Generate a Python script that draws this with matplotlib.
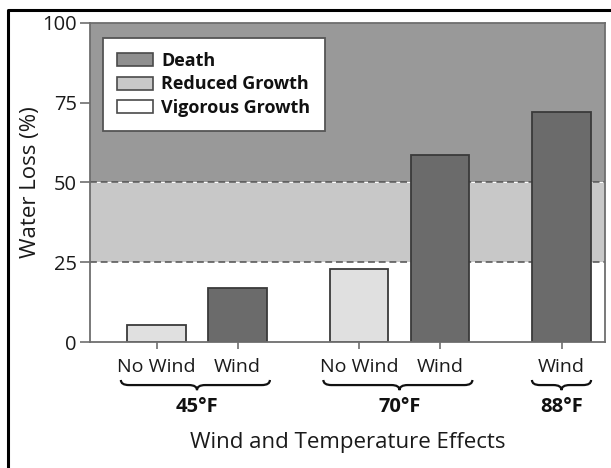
import matplotlib
matplotlib.use("Agg")
import matplotlib.pyplot as plt
from matplotlib.patches import Patch, PathPatch
from matplotlib.path import Path
from matplotlib.lines import Line2D

# ---- data ----
conditions = ["No Wind", "Wind", "No Wind", "Wind", "Wind"]
temperatures = ["45°F", "70°F", "88°F"]
bar_group = [0, 0, 1, 1, 2]
water_loss = [5.4, 17.0, 22.9, 58.6, 72.0]
zone_labels = ["Death", "Reduced Growth", "Vigorous Growth"]
zone_low = [50, 25, 0]
zone_high = [100, 50, 25]
yticks = [0, 25, 50, 75, 100]

FONT = "Open Sans"
plt.rcParams["font.family"] = [FONT, "DejaVu Sans"]

zone_colors = ["#999999", "#c8c8c8", "#ffffff"]
cond_colors = {"No Wind": "#e0e0e0", "Wind": "#6b6b6b"}
edge = "#3a3a3a"
axis_gray = "#6e6e6e"
txt = "#1a1a1a"

fig = plt.figure(figsize=(6.11, 4.68), dpi=100)
ax = fig.add_axes([90 / 611, 1 - 342 / 468, 515 / 611, 319 / 468])

# positions: step 1 within group, 1.5 between groups
pos = []
x = 0.0
for i, g in enumerate(bar_group):
    if i > 0:
        x += 1.0 if g == bar_group[i - 1] else 1.5
    pos.append(x)

width = 0.728

for lo, hi, c in zip(zone_low, zone_high, zone_colors):
    ax.axhspan(lo, hi, color=c, zorder=0, lw=0)
for y in (25, 50):
    ax.axhline(y, color="#505050", lw=1.1, ls=(0, (4.5, 2.5)), zorder=1)

ax.bar(pos, water_loss, width=width,
       color=[cond_colors[c] for c in conditions],
       edgecolor=edge, linewidth=1.3, zorder=3)

ax.set_xlim(pos[0] - 0.821, pos[-1] + 0.537)
ax.set_ylim(0, 100)
ax.set_yticks(yticks)
ax.set_yticklabels([str(t) for t in yticks], fontsize=14.5, color=txt)
ax.set_xticks(pos)
ax.set_xticklabels(conditions, fontsize=14, color=txt)
ax.tick_params(axis="y", length=7.5, width=1.2, color=axis_gray, pad=2)
ax.tick_params(axis="x", length=5, width=1.2, color=axis_gray, pad=6.5)
for s in ax.spines.values():
    s.set_color(axis_gray)
    s.set_linewidth(1.3)
    s.set_zorder(4)

ax.set_ylabel("Water Loss (%)", fontsize=16, color=txt)
ax.yaxis.set_label_coords(-0.095, 0.5)
ax.set_xlabel("Wind and Temperature Effects", fontsize=16, color=txt,
              labelpad=40)

# braces and temperature labels
trans = ax.get_xaxis_transform()
y_top, y_mid, y_bot = -0.119, -0.135, -0.151
for gi, label in enumerate(temperatures):
    gp = [p for p, g in zip(pos, bar_group) if g == gi]
    x0 = min(gp) - (0.44 if len(gp) > 1 else 0.365)
    x1 = max(gp) + (0.40 if len(gp) > 1 else 0.365)
    xm = (min(gp) + max(gp)) / 2
    r = 0.1
    verts = [(x0, y_top), (x0, y_mid), (x0 + r, y_mid),
             (xm - r, y_mid), (xm, y_mid), (xm, y_bot),
             (xm, y_mid), (xm + r, y_mid),
             (x1 - r, y_mid), (x1, y_mid), (x1, y_top)]
    codes = [Path.MOVETO, Path.CURVE3, Path.CURVE3,
             Path.LINETO, Path.CURVE3, Path.CURVE3,
             Path.CURVE3, Path.CURVE3,
             Path.LINETO, Path.CURVE3, Path.CURVE3]
    ax.add_patch(PathPatch(Path(verts, codes), transform=trans, fill=False,
                           lw=1.6, color="#111111", clip_on=False))
    ax.text(xm, -0.2185, label, transform=trans, ha="center", va="baseline",
            fontsize=14.5, fontweight="bold", color="#111111")

handles = [Patch(facecolor=c if c != "#999999" else "#8f8f8f",
                 edgecolor="#4a4a4a", lw=1.2) for c in zone_colors]
leg = ax.legend(handles, zone_labels, loc="upper left",
                bbox_to_anchor=(0.0247, 0.9545), borderaxespad=0,
                prop={"family": FONT, "weight": "bold", "size": 13},
                frameon=True, fancybox=False, framealpha=1,
                edgecolor="#555555", handlelength=2.0, handleheight=0.72,
                handletextpad=0.45, labelspacing=0.3, borderpad=0.8)
leg.get_frame().set_linewidth(1.3)
leg.set_zorder(5)
for t in leg.get_texts():
    t.set_color("#111111")

# outer frame (clipped at right and bottom)
fig.add_artist(Line2D([8 / 611, 8 / 611, 1.0], [0.0, 1 - 10 / 468, 1 - 10 / 468],
                      transform=fig.transFigure, color="black", lw=2.2))

fig.savefig("out.png", dpi=100)
